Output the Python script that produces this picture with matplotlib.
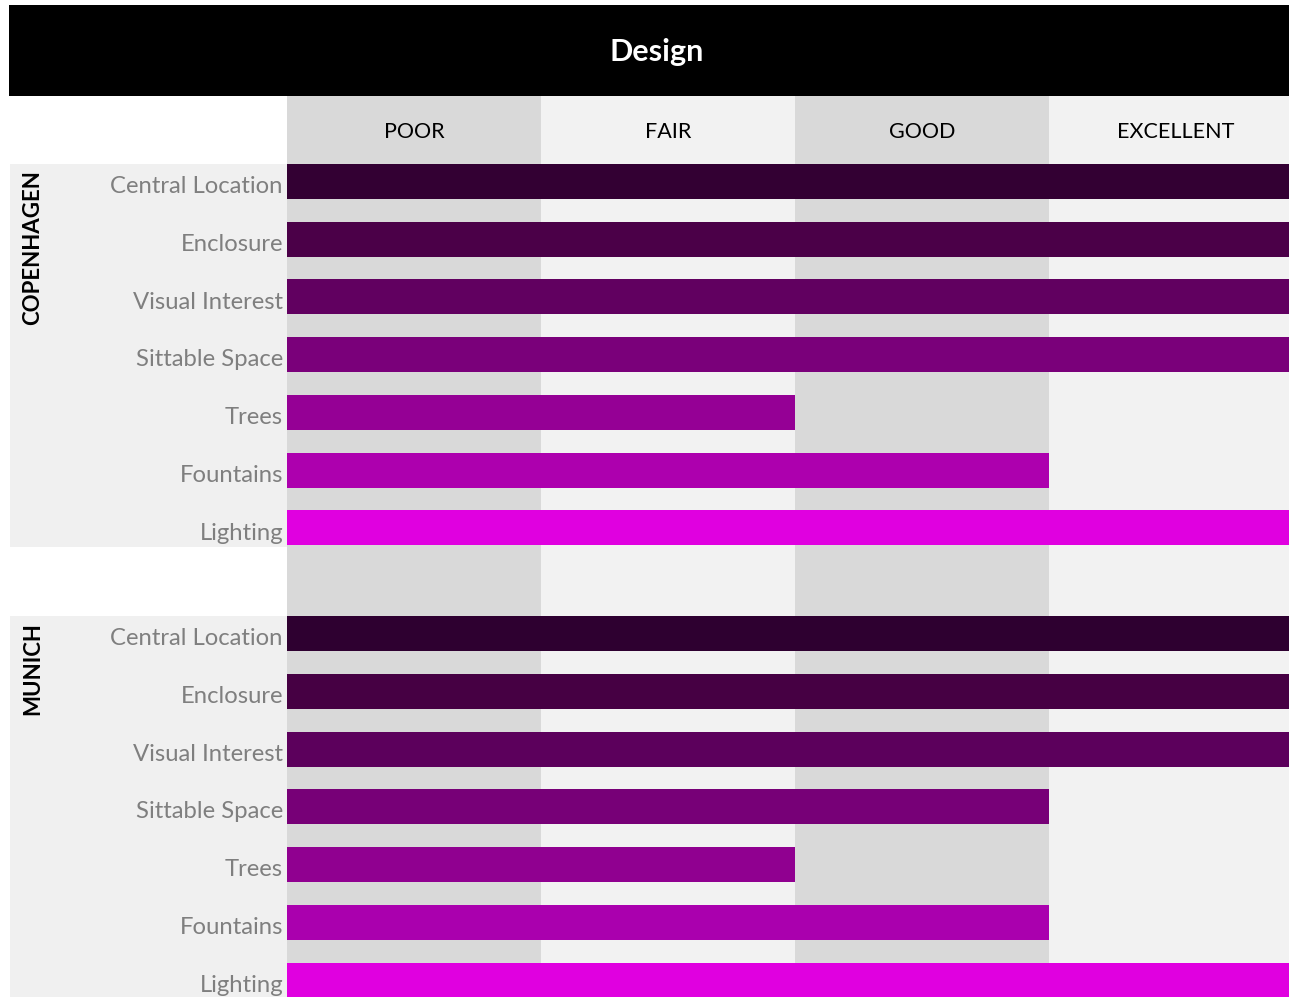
import matplotlib
matplotlib.use("Agg")
import matplotlib.pyplot as plt
from matplotlib.patches import Rectangle

# ---------------- data ----------------
title = "Design"
levels = ["POOR", "FAIR", "GOOD", "EXCELLENT"]
criteria = ["Central Location", "Enclosure", "Visual Interest", "Sittable Space",
            "Trees", "Fountains", "Lighting"]
groups = ["COPENHAGEN", "MUNICH"]
copenhagen_scores = [4, 4, 4, 4, 2, 3, 4]
munich_scores = [4, 4, 4, 3, 2, 3, 4]
copenhagen_colors = ["#330033", "#4b0048", "#610060", "#7a007a", "#950095", "#ad00ae", "#e000e0"]
munich_colors = ["#2e0030", "#460043", "#5c005c", "#770077", "#900090", "#aa00ae", "#e000e0"]

scores = [copenhagen_scores, munich_scores]
colors = [copenhagen_colors, munich_colors]

# ---------------- layout (pixel geometry of the reference) ----------------
W, H = 1289, 997
X0, CW = 287.0, 254.0        # x pixel of score 0, pixels per score unit
Y0, RP = 181.5, 57.75        # y pixel of first row centre, pixels per row
BAR_H = 35.0 / RP
GROUP_OFFSET = [0.0, 7.827]  # row offset of each group

def xd(px):
    return (px - X0) / CW

def yd(py):
    return (py - Y0) / RP

plt.rcParams['font.family'] = ['Lato', 'DejaVu Sans']

fig = plt.figure(figsize=(W / 100, H / 100), dpi=100)
ax = fig.add_axes([0, 0, 1, 1])
ax.set_xlim(xd(0), xd(W))
ax.set_ylim(yd(H), yd(0))
ax.axis("off")

# title bar
ax.add_patch(Rectangle((xd(9), yd(5)), xd(W) - xd(9), yd(96) - yd(5),
                       facecolor="black", edgecolor="none", zorder=1))
ax.text((xd(9) + xd(W)) / 2 + 0.03, yd(52), title, color="white",
        fontsize=22, fontweight="bold", ha="center", va="center", zorder=5)

# column bands + headers
band_colors = ["#d9d9d9", "#f2f2f2", "#d9d9d9", "#f2f2f2"]
for i, (lvl, c) in enumerate(zip(levels, band_colors)):
    ax.add_patch(Rectangle((i, yd(96)), 1, yd(H) - yd(96),
                           facecolor=c, edgecolor="none", zorder=1))
    ax.text(i + 0.5, (yd(96) + yd(164)) / 2 + 0.03, lvl, color="black",
            fontsize=15.5, ha="center", va="center", zorder=5)

# groups
n = len(criteria)
for g, name in enumerate(groups):
    off = GROUP_OFFSET[g]
    top = off - 0.5 * BAR_H
    bottom = off + (n - 1) + 0.5 * BAR_H + 2 / RP
    ax.add_patch(Rectangle((xd(10), top), xd(X0) - xd(10), bottom - top,
                           facecolor="#f0f0f0", edgecolor="none", zorder=1))
    ys = [off + k for k in range(n)]
    ax.barh(ys, scores[g], height=BAR_H, left=0, color=colors[g],
            edgecolor="none", zorder=3)
    for y, lab in zip(ys, criteria):
        ax.text(xd(283), y + 0.09, lab, color="#7f7f7f", fontsize=17.2,
                ha="right", va="center", zorder=5)
    ax.text(xd(33), top + 6 / RP, name, color="black", fontsize=16,
            fontweight="bold", rotation=90, ha="center", va="top", zorder=5)

fig.savefig("out.png", dpi=100)
